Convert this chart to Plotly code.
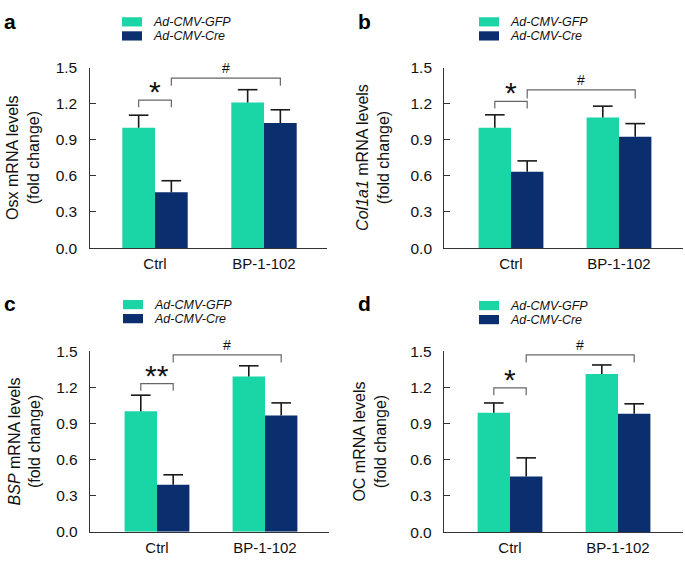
import plotly.graph_objects as go

W, H = 685, 565

categories = ["Ctrl", "BP-1-102"]
series_names = ["Ad-CMV-GFP", "Ad-CMV-Cre"]

gfp_a = [1.00, 1.21]
gfp_a_err = [0.105, 0.107]
cre_a = [0.465, 1.04]
cre_a_err = [0.095, 0.11]

gfp_b = [1.00, 1.085]
gfp_b_err = [0.108, 0.095]
cre_b = [0.635, 0.925]
cre_b_err = [0.09, 0.11]

gfp_c = [1.00, 1.29]
gfp_c_err = [0.134, 0.088]
cre_c = [0.39, 0.966]
cre_c_err = [0.083, 0.104]

gfp_d = [0.99, 1.31]
gfp_d_err = [0.08, 0.075]
cre_d = [0.46, 0.98]
cre_d_err = [0.155, 0.083]

ylabels = ["Osx mRNA levels", "<i>Col1a1</i> mRNA levels",
           "<i>BSP</i> mRNA levels", "OC mRNA levels"]
panel_letters = ["a", "b", "c", "d"]
sig_left = ["*", "*", "**", "*"]
sig_right = ["#", "#", "#", "#"]
# bracket heights (top, drop)
br_left = [(1.23, 1.17), (1.22, 1.16), (1.23, 1.17), (1.195, 1.133)]
br_right = [(1.413, 1.35), (1.316, 1.243), (1.468, 1.406), (1.468, 1.406)]

GREEN = "#1AD5A5"
BLUE = "#0A2E6E"
ERR = "#1a1a1a"
FONT = "Liberation Sans, Arial, sans-serif"

# layout geometry in pixels: (axis left, axis right, y top(1.5), y bottom(0), ctrl center, bp center)
geo = [
    (89.5, 327, 60.5, 246.5, 155, 264),
    (444.3, 683, 60.5, 246.5, 511, 619),
    (90, 329, 352.7, 539, 157, 265),
    (444, 683, 352.7, 539.3, 510, 618),
]
legend_pos = [(122, 8.5), (479, 8.5), (123, 300), (479, 301)]
ytitle_x = [23, 373, 25, 370]
letter_pos = [(10, 13), (364, 13), (10, 304), (364, 304)]

data = [
    (gfp_a, gfp_a_err, cre_a, cre_a_err),
    (gfp_b, gfp_b_err, cre_b, cre_b_err),
    (gfp_c, gfp_c_err, cre_c, cre_c_err),
    (gfp_d, gfp_d_err, cre_d, cre_d_err),
]

fig = go.Figure()
shapes = []
annotations = []
layout = {}

for i in range(4):
    xl, xr, yt, yb, c0, c1 = geo[i]
    unit = c1 - c0
    xr0 = (xl - c0) / unit
    xr1 = (xr - c0) / unit
    xa = "x" if i == 0 else f"x{i+1}"
    ya = "y" if i == 0 else f"y{i+1}"
    xkey = "xaxis" if i == 0 else f"xaxis{i+1}"
    ykey = "yaxis" if i == 0 else f"yaxis{i+1}"
    g, ge, c, ce = data[i]
    x = [0, 1]
    for vals, errs, off, col, nm in [(g, ge, -0.3, GREEN, series_names[0]),
                                     (c, ce, 0.0, BLUE, series_names[1])]:
        # bar with upward-only error line (no caps)
        fig.add_trace(go.Bar(
            x=x, y=vals, width=0.3, offset=off, marker=dict(color=col, line=dict(width=0)),
            error_y=dict(type="data", array=errs, arrayminus=[0, 0], color=ERR,
                         thickness=1.6, width=0),
            xaxis=xa, yaxis=ya, showlegend=False, name=nm))
        # cap at the top of each error bar
        fig.add_trace(go.Scatter(
            x=[xi + off + 0.15 for xi in x], y=[v + e for v, e in zip(vals, errs)],
            mode="markers", marker=dict(symbol="line-ew", size=14, line=dict(color=ERR, width=1.6)),
            xaxis=xa, yaxis=ya, showlegend=False, hoverinfo="skip", cliponaxis=False))

    layout[xkey] = dict(
        domain=[xl / W, xr / W], range=[xr0, xr1], anchor=ya,
        tickvals=[0, 1], ticktext=categories, ticks="", showgrid=False, zeroline=False,
        showline=True, linecolor="#333333", linewidth=1.3,
        tickfont=dict(size=15, color="#111111", family=FONT), ticklabelstandoff=2, fixedrange=True)
    layout[ykey] = dict(
        domain=[1 - yb / H, 1 - yt / H], range=[0, 1.5], anchor=xa,
        tickvals=[0, 0.3, 0.6, 0.9, 1.2, 1.5], ticktext=["0.0", "0.3", "0.6", "0.9", "1.2", "1.5"],
        ticks="inside", ticklen=6, tickcolor="#333333", tickwidth=1.2,
        showgrid=False, zeroline=False, showline=True, linecolor="#333333", linewidth=1.3,
        tickfont=dict(size=15.5, color="#111111", family=FONT), ticklabelstandoff=8, fixedrange=True)

    # significance brackets
    top, drop = br_left[i]
    shapes.append(dict(type="path", xref=xa, yref=ya,
                       path=f"M -0.15,{drop} L -0.15,{top} L 0.15,{top} L 0.15,{drop}",
                       line=dict(color="#666666", width=1.2)))
    annotations.append(dict(x=0, y=top, xref=xa, yref=ya, text=sig_left[i], showarrow=False,
                            font=dict(size=30, color="#111111", family=FONT),
                            yanchor="bottom", yshift=-10))
    top, drop = br_right[i]
    shapes.append(dict(type="path", xref=xa, yref=ya,
                       path=f"M 0.15,{drop} L 0.15,{top} L 1.15,{top} L 1.15,{drop}",
                       line=dict(color="#666666", width=1.2)))
    annotations.append(dict(x=0.65, y=top, xref=xa, yref=ya, text=sig_right[i], showarrow=False,
                            font=dict(size=14, color="#111111", family=FONT),
                            yanchor="bottom", yshift=0))

    # legend
    lx, ly = legend_pos[i]
    for k, (col, nm) in enumerate([(GREEN, series_names[0]), (BLUE, series_names[1])]):
        y0 = ly + k * 14.5
        shapes.append(dict(type="rect", xref="paper", yref="paper",
                           x0=lx / W, x1=(lx + 20) / W, y0=1 - (y0 + 9.5) / H, y1=1 - y0 / H,
                           line=dict(width=0), fillcolor=col))
        annotations.append(dict(x=(lx + 29) / W, y=1 - (y0 + 4.75) / H, xref="paper", yref="paper",
                                text=f"<i>{nm}</i>", showarrow=False, xanchor="left", yanchor="middle",
                                font=dict(size=12.5, color="#111111", family=FONT)))

    # y-axis title
    annotations.append(dict(x=ytitle_x[i] / W, y=1 - ((yt + yb) / 2) / H, xref="paper", yref="paper",
                            text=ylabels[i] + "<br>(fold change)", showarrow=False, textangle=-90,
                            xanchor="center", yanchor="middle",
                            font=dict(size=16, color="#111111", family=FONT)))
    # panel letter
    px, py = letter_pos[i]
    annotations.append(dict(x=px / W, y=1 - py / H, xref="paper", yref="paper",
                            text=f"<b>{panel_letters[i]}</b>", showarrow=False,
                            xanchor="center", yanchor="middle",
                            font=dict(size=21, color="#000000", family=FONT)))

fig.update_layout(
    width=W, height=H, margin=dict(l=0, r=0, t=0, b=0),
    paper_bgcolor="white", plot_bgcolor="white", barmode="overlay",
    font=dict(family=FONT), shapes=shapes, annotations=annotations, **layout)

fig.write_html("out.html", config={"displayModeBar": False},
               post_script="document.body.style.margin='0px';")
